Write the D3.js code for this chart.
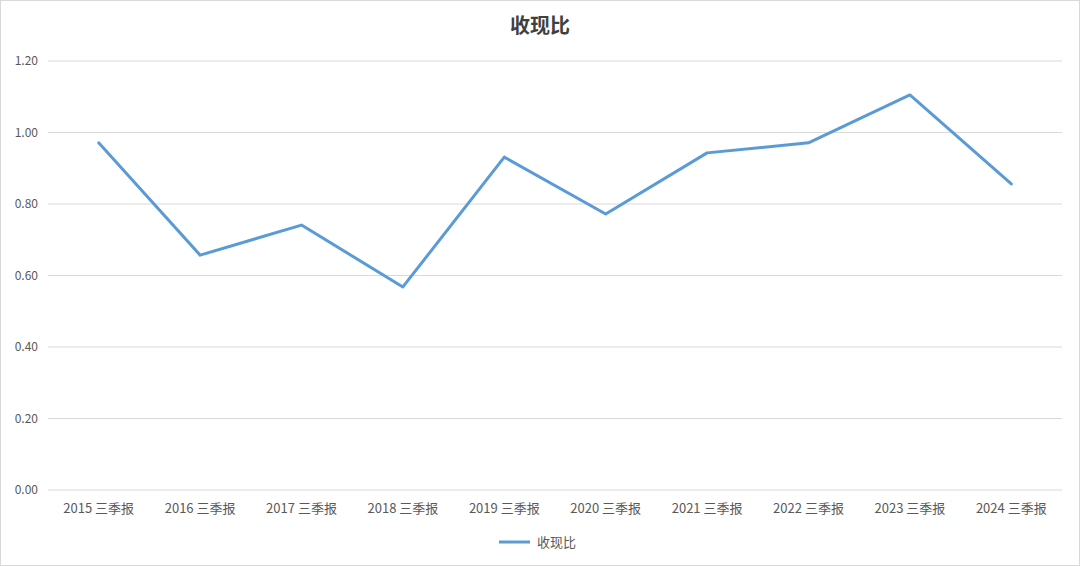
<!DOCTYPE html>
<html><head><meta charset="utf-8">
<script src="https://cdn.jsdelivr.net/npm/d3@7"></script>
<style>body{margin:0;background:#fff}svg{display:block}</style>
</head><body>
<svg id="c" width="1080" height="566"></svg>
<script>
const categories = ["2015 三季报","2016 三季报","2017 三季报","2018 三季报","2019 三季报","2020 三季报","2021 三季报","2022 三季报","2023 三季报","2024 三季报"];
const values = [0.971,0.657,0.741,0.568,0.931,0.772,0.943,0.971,1.105,0.856];
const yTicks = [0,0.2,0.4,0.6,0.8,1.0,1.2];
const seriesName = "收现比";

const svg = d3.select("#c");
const font = "'Noto Sans CJK SC','Noto Sans',sans-serif";
svg.append("rect").attr("x",0.5).attr("y",0.5).attr("width",1079).attr("height",565).attr("fill","#fff").attr("stroke","#d9d9d9");
const x = d3.scaleBand().domain(categories).range([48,1062]);
const y = d3.scaleLinear().domain([0,1.2]).range([490,61]);
const g = svg.append("g");
yTicks.forEach(t=>{
  g.append("line").attr("x1",48).attr("x2",1062).attr("y1",y(t)).attr("y2",y(t)).attr("stroke","#d9d9d9").attr("stroke-width",1);
  g.append("text").attr("x",38).attr("y",y(t)+4).attr("text-anchor","end").attr("font-size",12).attr("fill","#595959").attr("font-family",font).text(t.toFixed(2));
});
categories.forEach(c=>{
  g.append("text").attr("x",x(c)+x.bandwidth()/2).attr("y",513).attr("text-anchor","middle").attr("font-size",13).attr("fill","#595959").attr("font-family",font).text(c);
});
const line = d3.line().x((d,i)=>x(categories[i])+x.bandwidth()/2).y(d=>y(d));
g.append("path").datum(values).attr("d",line).attr("fill","none").attr("stroke","#5b9bd5").attr("stroke-width",3).attr("stroke-linejoin","round").attr("stroke-linecap","round");
svg.append("text").attr("x",540).attr("y",33).attr("text-anchor","middle").attr("font-size",20).attr("font-weight","bold").attr("fill","#404040").attr("font-family",font).text(seriesName);
svg.append("line").attr("x1",499).attr("x2",530).attr("y1",542).attr("y2",542).attr("stroke","#5b9bd5").attr("stroke-width",3);
svg.append("text").attr("x",537).attr("y",547).attr("font-size",13).attr("fill","#595959").attr("font-family",font).text(seriesName);
</script>
</body></html>
